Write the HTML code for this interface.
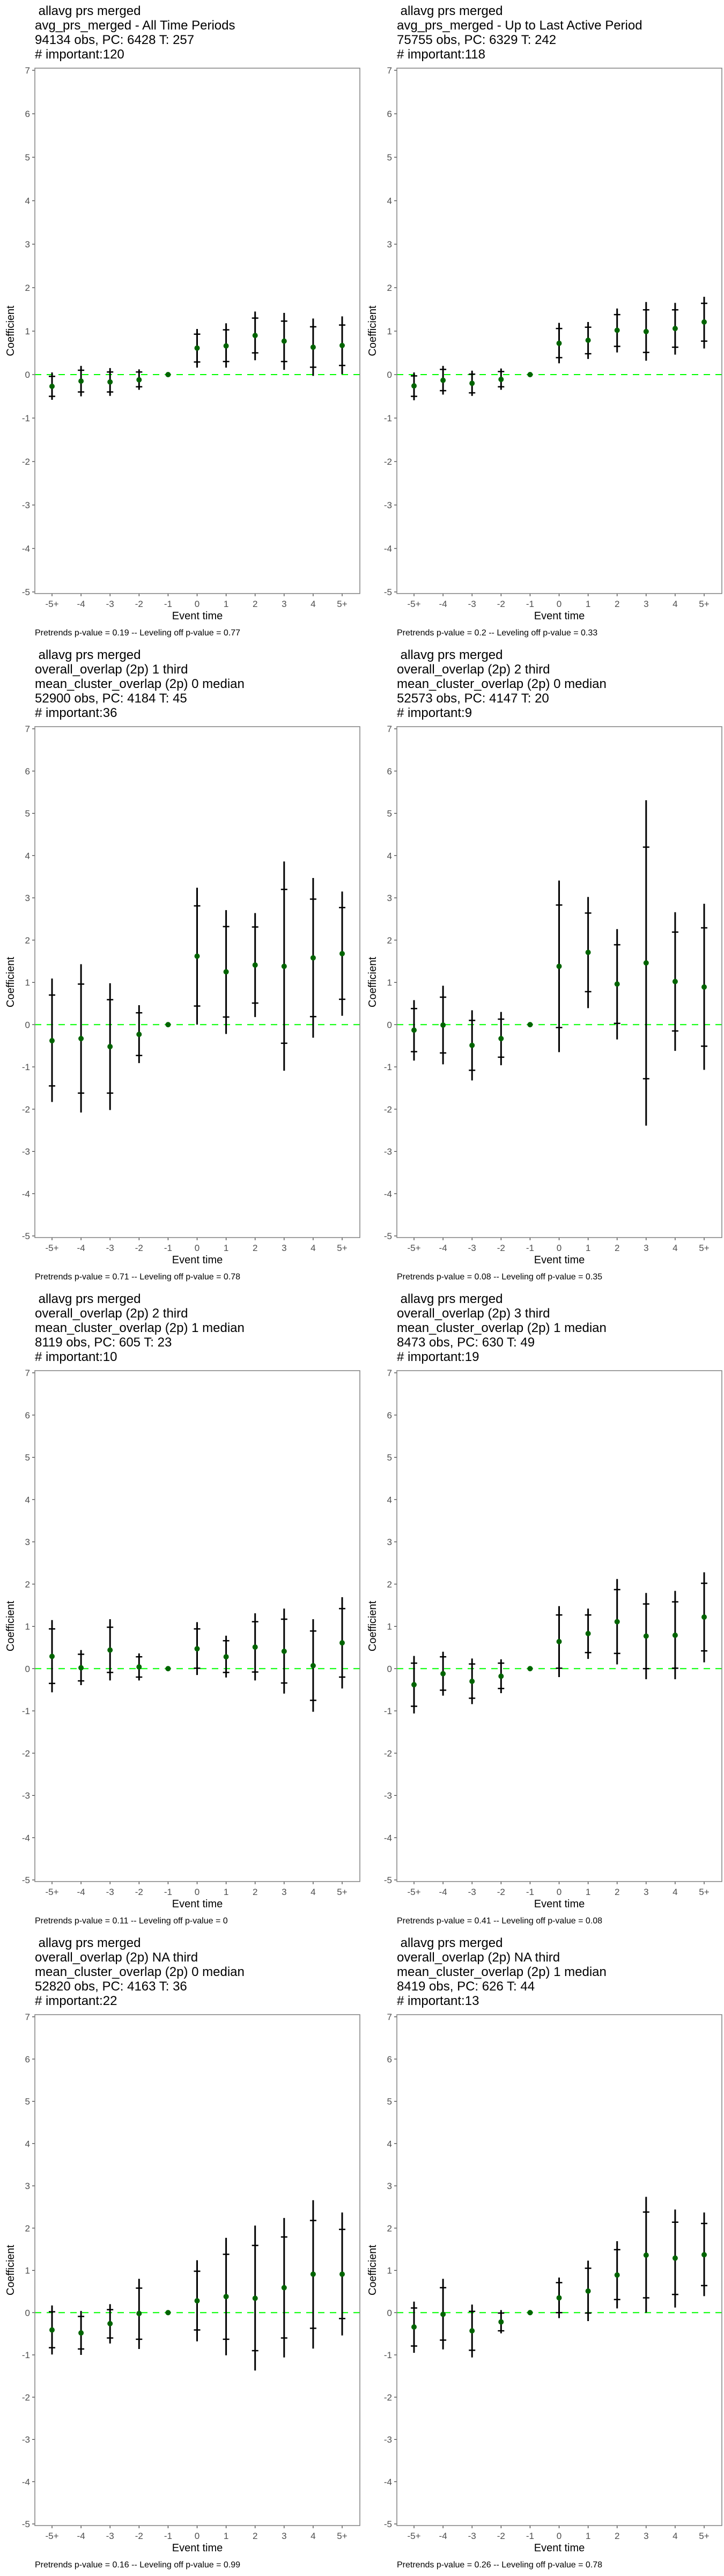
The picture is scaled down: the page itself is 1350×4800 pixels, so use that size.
<!DOCTYPE html>
<html><head><meta charset="utf-8"><style>
html,body{margin:0;padding:0;background:#fff;}
svg{display:block;}
text{font-family:"Liberation Sans",Arial,sans-serif;white-space:pre;}
</style></head>
<body>
<svg id="chart" width="1350" height="4800" viewBox="0 0 1350 4800" xmlns="http://www.w3.org/2000/svg"></svg>
<script>
// ---- data ----
const categories = ["-5+","-4","-3","-2","-1","0","1","2","3","4","5+"];
const yTicks = [-5,-4,-3,-2,-1,0,1,2,3,4,5,6,7];

const titles = [
  [" allavg prs merged","avg_prs_merged - All Time Periods","94134 obs, PC: 6428 T: 257","# important:120"],
  [" allavg prs merged","avg_prs_merged - Up to Last Active Period","75755 obs, PC: 6329 T: 242","# important:118"],
  [" allavg prs merged","overall_overlap (2p) 1 third","mean_cluster_overlap (2p) 0 median","52900 obs, PC: 4184 T: 45","# important:36"],
  [" allavg prs merged","overall_overlap (2p) 2 third","mean_cluster_overlap (2p) 0 median","52573 obs, PC: 4147 T: 20","# important:9"],
  [" allavg prs merged","overall_overlap (2p) 2 third","mean_cluster_overlap (2p) 1 median","8119 obs, PC: 605 T: 23","# important:10"],
  [" allavg prs merged","overall_overlap (2p) 3 third","mean_cluster_overlap (2p) 1 median","8473 obs, PC: 630 T: 49","# important:19"],
  [" allavg prs merged","overall_overlap (2p) NA third","mean_cluster_overlap (2p) 0 median","52820 obs, PC: 4163 T: 36","# important:22"],
  [" allavg prs merged","overall_overlap (2p) NA third","mean_cluster_overlap (2p) 1 median","8419 obs, PC: 626 T: 44","# important:13"]
];
const pretrendP = ["0.19","0.2","0.71","0.08","0.11","0.41","0.16","0.26"];
const levelingP = ["0.77","0.33","0.78","0.35","0","0.08","0.99","0.78"];

const est1 = [-0.27,-0.15,-0.17,-0.12,0,0.61,0.66,0.90,0.77,0.63,0.67];
const lo95_1 = [-0.58,-0.50,-0.49,-0.35,0,0.16,0.16,0.33,0.11,-0.03,0.01];
const hi95_1 = [0.05,0.20,0.15,0.12,0,1.05,1.18,1.45,1.42,1.29,1.34];
const lo90_1 = [-0.50,-0.40,-0.40,-0.28,0,0.29,0.30,0.50,0.30,0.17,0.21];
const hi90_1 = [-0.04,0.10,0.06,0.06,0,0.93,1.03,1.30,1.23,1.10,1.14];

const est2 = [-0.26,-0.13,-0.20,-0.11,0,0.72,0.79,1.02,0.99,1.06,1.21];
const lo95_2 = [-0.59,-0.46,-0.49,-0.35,0,0.26,0.36,0.51,0.32,0.46,0.60];
const hi95_2 = [0.05,0.20,0.09,0.14,0,1.19,1.21,1.52,1.67,1.65,1.79];
const lo90_2 = [-0.50,-0.37,-0.42,-0.28,0,0.39,0.48,0.65,0.51,0.63,0.77];
const hi90_2 = [-0.03,0.12,0.01,0.07,0,1.06,1.09,1.38,1.49,1.49,1.64];

const est3 = [-0.38,-0.33,-0.52,-0.23,0,1.62,1.25,1.41,1.38,1.58,1.68];
const lo95_3 = [-1.83,-2.08,-2.02,-0.91,0,0.00,-0.22,0.18,-1.09,-0.31,0.21];
const hi95_3 = [1.09,1.43,0.98,0.46,0,3.24,2.71,2.64,3.86,3.47,3.15];
const lo90_3 = [-1.45,-1.62,-1.62,-0.73,0,0.44,0.18,0.51,-0.44,0.19,0.60];
const hi90_3 = [0.70,0.96,0.59,0.28,0,2.81,2.32,2.31,3.20,2.97,2.77];

const est4 = [-0.13,-0.01,-0.49,-0.33,0,1.38,1.71,0.96,1.46,1.02,0.89];
const lo95_4 = [-0.85,-0.94,-1.32,-0.96,0,-0.65,0.39,-0.35,-2.39,-0.62,-1.07];
const hi95_4 = [0.58,0.92,0.34,0.30,0,3.41,3.02,2.26,5.31,2.66,2.86];
const lo90_4 = [-0.64,-0.67,-1.08,-0.77,0,-0.07,0.78,0.03,-1.28,-0.15,-0.51];
const hi90_4 = [0.38,0.65,0.10,0.13,0,2.83,2.64,1.89,4.20,2.19,2.29];

const est5 = [0.29,0.02,0.44,0.04,0,0.47,0.28,0.51,0.41,0.07,0.61];
const lo95_5 = [-0.56,-0.39,-0.28,-0.28,0,-0.15,-0.21,-0.28,-0.59,-1.02,-0.47];
const hi95_5 = [1.15,0.44,1.17,0.36,0,1.10,0.78,1.31,1.42,1.17,1.69];
const lo90_5 = [-0.35,-0.29,-0.09,-0.20,0,0.01,-0.09,-0.08,-0.34,-0.75,-0.20];
const hi90_5 = [0.94,0.34,0.98,0.28,0,0.94,0.66,1.11,1.17,0.89,1.42];

const est6 = [-0.38,-0.12,-0.30,-0.18,0,0.64,0.83,1.11,0.77,0.79,1.22];
const lo95_6 = [-1.06,-0.64,-0.84,-0.58,0,-0.20,0.23,0.10,-0.25,-0.25,0.15];
const hi95_6 = [0.30,0.40,0.24,0.22,0,1.48,1.42,2.12,1.79,1.84,2.28];
const lo90_6 = [-0.89,-0.51,-0.70,-0.47,0,0.01,0.38,0.36,0.00,0.01,0.42];
const hi90_6 = [0.13,0.28,0.11,0.13,0,1.27,1.27,1.87,1.53,1.58,2.02];

const est7 = [-0.41,-0.48,-0.26,-0.02,0,0.28,0.38,0.34,0.59,0.91,0.91];
const lo95_7 = [-0.99,-1.00,-0.73,-0.86,0,-0.68,-1.01,-1.37,-1.06,-0.85,-0.54];
const hi95_7 = [0.17,0.04,0.20,0.80,0,1.24,1.77,2.06,2.24,2.66,2.37];
const lo90_7 = [-0.83,-0.86,-0.60,-0.63,0,-0.41,-0.63,-0.90,-0.60,-0.37,-0.14];
const hi90_7 = [0.02,-0.09,0.07,0.58,0,0.98,1.38,1.59,1.79,2.18,1.97];

const est8 = [-0.34,-0.04,-0.43,-0.22,0,0.35,0.51,0.89,1.36,1.29,1.37];
const lo95_8 = [-0.95,-0.87,-1.06,-0.49,0,-0.13,-0.20,0.10,0.00,0.12,0.39];
const hi95_8 = [0.26,0.80,0.19,0.06,0,0.83,1.23,1.69,2.74,2.44,2.37];
const lo90_8 = [-0.79,-0.65,-0.89,-0.43,0,0.00,-0.01,0.31,0.35,0.43,0.64];
const hi90_8 = [0.11,0.59,0.03,-0.01,0,0.71,1.05,1.49,2.38,2.14,2.11];

const estimates = [est1,est2,est3,est4,est5,est6,est7,est8];
const lo95 = [lo95_1,lo95_2,lo95_3,lo95_4,lo95_5,lo95_6,lo95_7,lo95_8];
const hi95 = [hi95_1,hi95_2,hi95_3,hi95_4,hi95_5,hi95_6,hi95_7,hi95_8];
const lo90 = [lo90_1,lo90_2,lo90_3,lo90_4,lo90_5,lo90_6,lo90_7,lo90_8];
const hi90 = [hi90_1,hi90_2,hi90_3,hi90_4,hi90_5,hi90_6,hi90_7,hi90_8];

// ---- drawing ----
const NS = "http://www.w3.org/2000/svg";
const svg = document.getElementById("chart");
function mk(tag, attrs, parent, txt){
  const e = document.createElementNS(NS, tag);
  for (const k in attrs) e.setAttribute(k, attrs[k]);
  if (txt !== undefined) e.textContent = txt;
  (parent || svg).appendChild(e);
  return e;
}

for (let p = 0; p < 8; p++) {
  const col = p % 2, row = Math.floor(p / 2);
  const ox = col * 675, oy = row * 1200;
  const nLines = titles[p].length;
  const g = mk("g", {});
  
  

  const y7 = oy + (nLines === 4 ? 131 : 158);
  const yM5 = oy + 1103;
  const unit = (yM5 - y7) / 12;
  const yScale = v => y7 + (7 - v) * unit;
  const xStep = 54.1;
  const xScale = i => ox + 97 + i * xStep;
  const left = ox + 65, right = ox + 671, top = y7 - 4, bottom = oy + 1106;

  titles[p].forEach((t, i) => {
    const tt = mk("text", {x: ox + 65, y: oy + 28 + i * 27, "font-size": 24, fill: "#000"}, g, t);
    
    
  });

  yTicks.forEach(v => {
    const y = yScale(v);
    const tk = mk("line", {x1: left - 5, x2: left, y1: y, y2: y, stroke: "#333", "stroke-width": 1.2}, g);
    
    
    const tl = mk("text", {x: left - 9, y: y + 6, "font-size": 17, fill: "#4d4d4d", "text-anchor": "end"}, g, String(v));
    
    
  });
  categories.forEach((c, i) => {
    const x = xScale(i);
    const tk = mk("line", {x1: x, x2: x, y1: bottom, y2: bottom + 5, stroke: "#333", "stroke-width": 1.2}, g);
    
    
    const tl = mk("text", {x: x, y: oy + 1131, "font-size": 17, fill: "#4d4d4d", "text-anchor": "middle"}, g, c);
    
    
  });

  const zl = mk("line", {x1: left, x2: right, y1: yScale(0), y2: yScale(0), stroke: "#00ff00", "stroke-width": 2, "stroke-dasharray": "12,10"}, g);
  
  

  categories.forEach((c, i) => {
    const x = xScale(i);
    if (hi95[p][i] !== lo95[p][i]) {
      const eb = mk("line", {x1: x, x2: x, y1: yScale(hi95[p][i]), y2: yScale(lo95[p][i]), stroke: "#000", "stroke-width": 3}, g);
      
      
      [hi90[p][i], lo90[p][i]].forEach(v => {
        const cb = mk("line", {x1: x - 6, x2: x + 6, y1: yScale(v), y2: yScale(v), stroke: "#000", "stroke-width": 2.5}, g);
        
        
      });
    }
    const pt = mk("circle", {cx: x, cy: yScale(estimates[p][i]), r: 5, fill: "#006400"}, g);
    
    
  });

  const bd = mk("rect", {x: left, y: top, width: right - left, height: bottom - top, fill: "none", stroke: "#808080", "stroke-width": 1.5}, g);
  
  

  const xt = mk("text", {x: (left + right) / 2, y: oy + 1154, "font-size": 20, fill: "#000", "text-anchor": "middle"}, g, "Event time");
  
  
  const cy = (top + bottom) / 2;
  const yt = mk("text", {x: ox + 26, y: cy, "font-size": 20, fill: "#000", "text-anchor": "middle", transform: "rotate(-90 " + (ox + 26) + " " + cy + ")"}, g, "Coefficient");
  
  

  const cap = mk("text", {x: ox + 65, y: oy + 1184, "font-size": 16, fill: "#000"}, g,
    "Pretrends p-value = " + pretrendP[p] + " -- Leveling off p-value = " + levelingP[p]);
  
  
}
</script>
</body></html>
